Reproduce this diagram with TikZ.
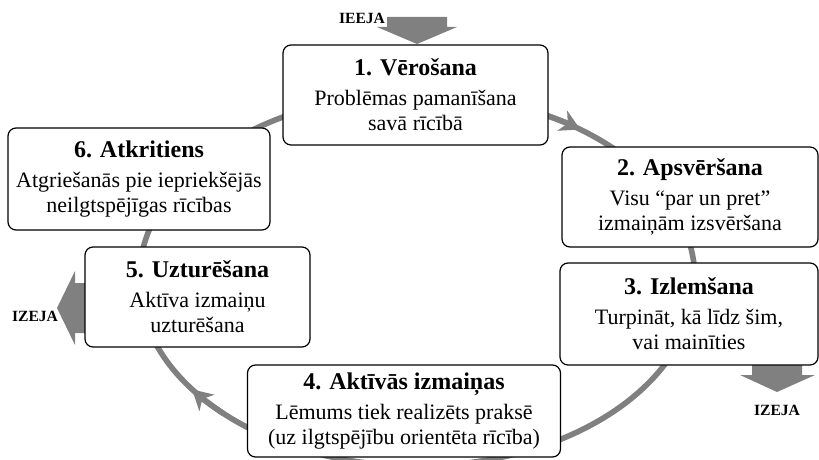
\documentclass[tikz,border=0pt]{standalone}
\usepackage{fontspec}
\setmainfont{Liberation Serif}
\usetikzlibrary{arrows.meta}
\definecolor{cyclegray}{RGB}{128,128,128}

\begin{document}
\begin{tikzpicture}[x=0.5pt, y=-0.5pt,
    stage/.style={draw=black, line width=0.6pt, fill=white, rounded corners=4pt,
                  minimum height=50pt, inner sep=0pt, align=center,
                  font=\fontsize{11}{12.5}\selectfont},
    ring/.style={draw=cyclegray, line width=2.8pt},
    ringarr/.style={ring, -{Stealth[length=10pt, width=11pt, inset=3pt]}},
    blockarr/.style={fill=cyclegray},
    gate/.style={font=\fontsize{7.8}{8}\selectfont\bfseries, inner sep=0pt}
  ]
    \useasboundingbox (0,0) rectangle (819,460);

    % the cycle
    \coordinate (hub) at (417,280);
    \draw[ring] (hub) ellipse [x radius=278, y radius=186];
    \draw[ringarr] (hub) ++(-64:278 and 186) arc[start angle=-64, end angle=-54, x radius=278, y radius=186];
    \draw[ringarr] (hub) ++(134:278 and 186) arc[start angle=134, end angle=144, x radius=278, y radius=186];

    % entry and exits
    \fill[blockarr] (387,17) -- (447,17) -- (447,27) -- (457,27) -- (417,44) -- (377,27) -- (387,27) -- cycle;
    \fill[blockarr] (95,283) -- (75,283) -- (75,271) -- (57,308) -- (75,345) -- (75,333) -- (95,333) -- cycle;
    \fill[blockarr] (752,360) -- (802,360) -- (802,375) -- (815,375) -- (777,392) -- (740,375) -- (752,375) -- cycle;

    \node[gate] (entry) at (362,18) {IEEJA};
    \node[gate] (exitkeep) at (35,316) {IZEJA};
    \node[gate] (exitdecide) at (777,410) {IZEJA};

    % stages
    \node[stage, minimum width=132.5pt] (observe) at (415.5,95)
      {{\fontsize{12}{14}\selectfont\bfseries 1. Vērošana}\\[2.5pt]Problēmas pamanīšana\\savā rīcībā};
    \node[stage, minimum width=128pt] (weigh) at (690,197)
      {{\fontsize{12}{14}\selectfont\bfseries 2. Apsvēršana}\\[2.5pt]Visu “par un pret”\\izmaiņām izsvēršana};
    \node[stage, minimum width=129pt, minimum height=51pt] (decide) at (689,314)
      {{\fontsize{12}{14}\selectfont\bfseries 3. Izlemšana}\\[2.5pt]Turpināt, kā līdz šim,\\vai mainīties};
    \node[stage, minimum width=156.5pt, minimum height=46pt] (act) at (404,411)
      {{\fontsize{12}{14}\selectfont\bfseries 4. Aktīvās izmaiņas}\\[2.5pt]Lēmums tiek realizēts praksē\\(uz ilgtspējību orientēta rīcība)};
    \node[stage, minimum width=112.5pt] (keep) at (197.5,297)
      {{\fontsize{12}{14}\selectfont\bfseries 5. Uzturēšana}\\[2.5pt]Aktīva izmaiņu\\uzturēšana};
    \node[stage, minimum width=131pt, minimum height=51pt] (relapse) at (139,179)
      {{\fontsize{12}{14}\selectfont\bfseries 6. Atkritiens}\\[2.5pt]Atgriešanās pie iepriekšējās\\neilgtspējīgas rīcības};
  \end{tikzpicture}
\end{document}
